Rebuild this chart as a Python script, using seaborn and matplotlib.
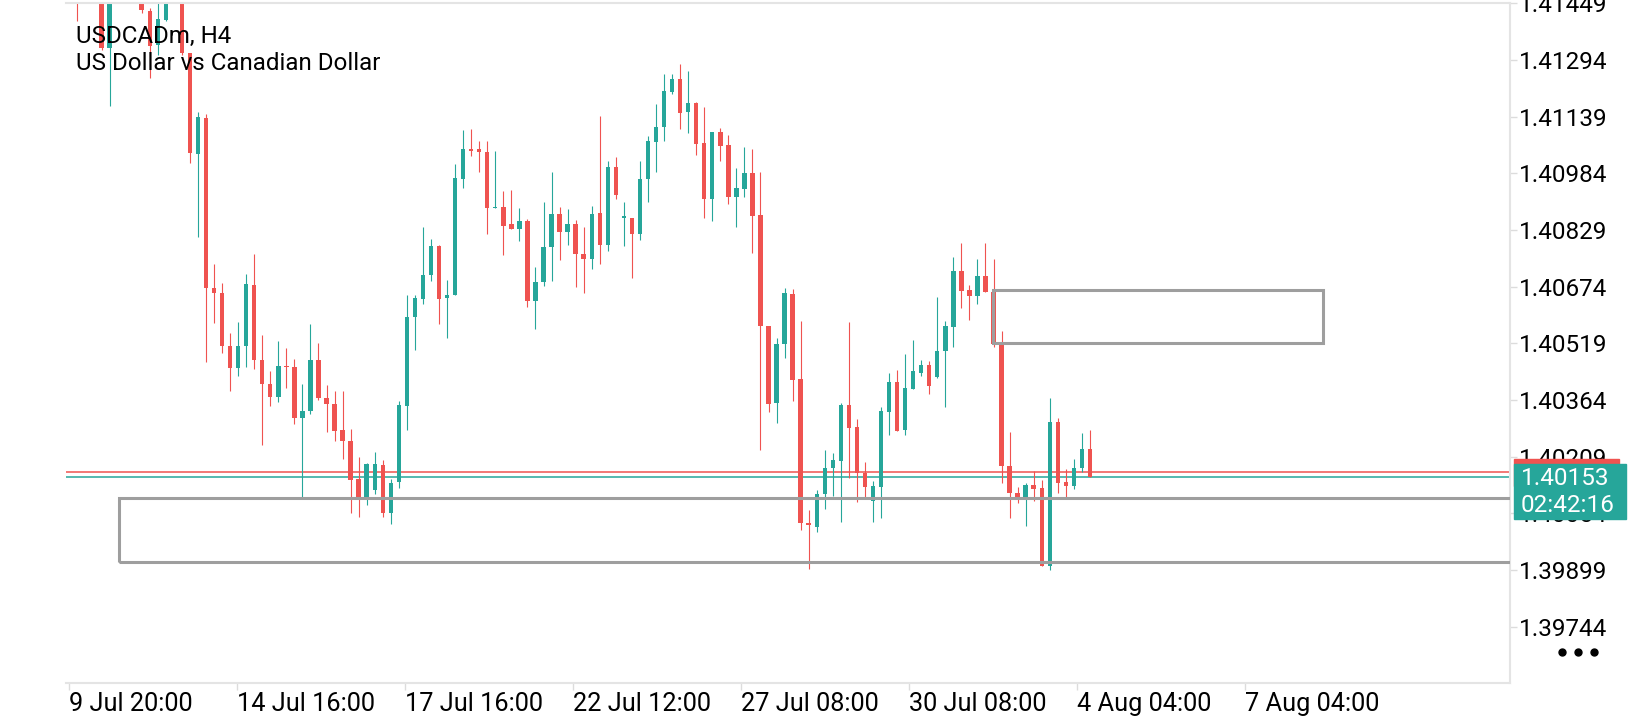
import numpy as np
import pandas as pd
import matplotlib
matplotlib.use("Agg")
import matplotlib.pyplot as plt
from matplotlib.patches import Rectangle
from matplotlib.lines import Line2D
import seaborn as sns

# H4 candles, oldest first
opens = [1.41500, 1.41520, 1.41460, 1.41530, 1.41490, 1.41328, 1.41470, 1.41540, 1.41500, 1.41447,
         1.41429, 1.41335, 1.41403, 1.41470, 1.41490, 1.41312, 1.41037, 1.41135, 1.40670, 1.40658,
         1.40512, 1.40451, 1.40512, 1.40679, 1.40474, 1.40408, 1.40371, 1.40458, 1.40455, 1.40314,
         1.40333, 1.40474, 1.40369, 1.40352, 1.40281, 1.40253, 1.40147, 1.40097, 1.40119, 1.40185,
         1.40056, 1.40140, 1.40347, 1.40592, 1.40640, 1.40707, 1.40785, 1.40642, 1.40650, 1.40969,
         1.41050, 1.41050, 1.41043, 1.40889, 1.40891, 1.40845, 1.40832, 1.40853, 1.40635, 1.40688,
         1.40782, 1.40873, 1.40823, 1.40845, 1.40762, 1.40751, 1.40875, 1.40789, 1.41001, 1.40862,
         1.40861, 1.40819, 1.40968, 1.41071, 1.41110, 1.41207, 1.41242, 1.41152, 1.41176, 1.41067,
         1.40913, 1.41097, 1.41061, 1.40920, 1.40940, 1.40986, 1.40870, 1.40567, 1.40355, 1.40517,
         1.40653, 1.40421, 1.40027, 1.40018, 1.40107, 1.40177, 1.40197, 1.40350, 1.40289, 1.40165,
         1.40088, 1.40127, 1.40332, 1.40413, 1.40282, 1.40395, 1.40438, 1.40461, 1.40428, 1.40498,
         1.40565, 1.40717, 1.40665, 1.40649, 1.40703, 1.40660, 1.40519, 1.40184, 1.40111, 1.40098,
         1.40132, 1.40123, 1.39911, 1.40303, 1.40139, 1.40130, 1.40177, 1.40230]
highs = [1.41560, 1.41560, 1.41560, 1.41580, 1.41520, 1.41500, 1.41560, 1.41600, 1.41540, 1.41480,
         1.41435, 1.41470, 1.41500, 1.41520, 1.41510, 1.41312, 1.41151, 1.41147, 1.40737, 1.40685,
         1.40548, 1.40578, 1.40710, 1.40762, 1.40541, 1.40444, 1.40526, 1.40507, 1.40477, 1.40407,
         1.40572, 1.40520, 1.40404, 1.40390, 1.40390, 1.40284, 1.40209, 1.40192, 1.40221, 1.40199,
         1.40147, 1.40361, 1.40650, 1.40652, 1.40838, 1.40804, 1.40789, 1.40692, 1.41009, 1.41103,
         1.41104, 1.41072, 1.41072, 1.41046, 1.40935, 1.40938, 1.40888, 1.40858, 1.40727, 1.40905,
         1.40988, 1.40893, 1.40887, 1.40856, 1.40836, 1.40894, 1.41140, 1.41018, 1.41028, 1.40906,
         1.40861, 1.41018, 1.41086, 1.41173, 1.41255, 1.41255, 1.41283, 1.41263, 1.41178, 1.41165,
         1.41097, 1.41109, 1.41089, 1.40998, 1.41056, 1.41051, 1.40989, 1.40567, 1.40534, 1.40671,
         1.40668, 1.40579, 1.40064, 1.40119, 1.40227, 1.40218, 1.40355, 1.40576, 1.40312, 1.40195,
         1.40143, 1.40346, 1.40439, 1.40446, 1.40490, 1.40528, 1.40474, 1.40471, 1.40646, 1.40580,
         1.40755, 1.40794, 1.40679, 1.40749, 1.40794, 1.40749, 1.40553, 1.40276, 1.40127, 1.40138,
         1.40170, 1.40145, 1.40369, 1.40314, 1.40175, 1.40203, 1.40275, 1.40282]
lows = [1.41470, 1.41401, 1.41455, 1.41470, 1.41320, 1.41168, 1.41455, 1.41480, 1.41455, 1.41422,
        1.41246, 1.41308, 1.41400, 1.41455, 1.41308, 1.41011, 1.40811, 1.40468, 1.40574, 1.40493,
        1.40390, 1.40430, 1.40455, 1.40449, 1.40242, 1.40347, 1.40359, 1.40397, 1.40298, 1.40095,
        1.40326, 1.40364, 1.40277, 1.40251, 1.40204, 1.40055, 1.40045, 1.40078, 1.40107, 1.40044,
        1.40025, 1.40124, 1.40281, 1.40501, 1.40626, 1.40690, 1.40572, 1.40534, 1.40650, 1.40944,
        1.41032, 1.40987, 1.40819, 1.40889, 1.40760, 1.40832, 1.40800, 1.40619, 1.40559, 1.40675,
        1.40690, 1.40748, 1.40789, 1.40673, 1.40656, 1.40722, 1.40735, 1.40772, 1.40913, 1.40786,
        1.40697, 1.40803, 1.40906, 1.40989, 1.41073, 1.41202, 1.41106, 1.41095, 1.41035, 1.40861,
        1.40854, 1.41018, 1.40900, 1.40838, 1.40920, 1.40767, 1.40227, 1.40331, 1.40301, 1.40479,
        1.40361, 1.40008, 1.39902, 1.40003, 1.40065, 1.40102, 1.40029, 1.40152, 1.40086, 1.40097,
        1.40030, 1.40042, 1.40268, 1.40280, 1.40267, 1.40395, 1.40431, 1.40381, 1.40424, 1.40346,
        1.40510, 1.40617, 1.40583, 1.40627, 1.40660, 1.40510, 1.40138, 1.40042, 1.40082, 1.40020,
        1.40088, 1.39911, 1.39899, 1.40111, 1.40100, 1.40121, 1.40166, 1.40153]
closes = [1.41520, 1.41460, 1.41530, 1.41490, 1.41326, 1.41470, 1.41540, 1.41500, 1.41470, 1.41431,
          1.41333, 1.41406, 1.41470, 1.41490, 1.41312, 1.41039, 1.41137, 1.40670, 1.40656, 1.40512,
          1.40451, 1.40512, 1.40682, 1.40474, 1.40408, 1.40371, 1.40458, 1.40454, 1.40314, 1.40333,
          1.40474, 1.40369, 1.40352, 1.40279, 1.40251, 1.40144, 1.40097, 1.40188, 1.40188, 1.40056,
          1.40138, 1.40350, 1.40592, 1.40642, 1.40707, 1.40785, 1.40640, 1.40652, 1.40970, 1.41050,
          1.41046, 1.41043, 1.40889, 1.40893, 1.40840, 1.40832, 1.40853, 1.40635, 1.40688, 1.40782,
          1.40873, 1.40823, 1.40845, 1.40762, 1.40751, 1.40873, 1.40789, 1.41001, 1.40925, 1.40864,
          1.40819, 1.40968, 1.41072, 1.41110, 1.41209, 1.41242, 1.41150, 1.41176, 1.41065, 1.40913,
          1.41097, 1.41059, 1.40920, 1.40943, 1.40986, 1.40867, 1.40567, 1.40353, 1.40518, 1.40656,
          1.40419, 1.40027, 1.40022, 1.40108, 1.40178, 1.40199, 1.40350, 1.40287, 1.40163, 1.40126,
          1.40129, 1.40334, 1.40413, 1.40280, 1.40397, 1.40443, 1.40461, 1.40402, 1.40498, 1.40567,
          1.40717, 1.40663, 1.40649, 1.40703, 1.40660, 1.40517, 1.40184, 1.40111, 1.40098, 1.40132,
          1.40121, 1.39911, 1.40303, 1.40138, 1.40130, 1.40177, 1.40230, 1.40153]

bid_price = 1.40153
ask_price = 1.40167
price_ticks = [1.41449, 1.41294, 1.41139, 1.40984, 1.40829, 1.40674,
               1.40519, 1.40364, 1.40209, 1.40054, 1.39899, 1.39744]
date_labels = ["9 Jul 20:00", "14 Jul 16:00", "17 Jul 16:00", "22 Jul 12:00",
               "27 Jul 08:00", "30 Jul 08:00", "4 Aug 04:00", "7 Aug 04:00"]
# drawn zones: (first bar, last bar, low price, high price)
demand_zone = [6.2, 200.0, 1.39920, 1.40095]
supply_zone = [114.9, 156.0, 1.40519, 1.40664]

UP = "#26a69a"
DOWN = "#ef5350"
W, H = 1640, 720

df = pd.DataFrame({"open": opens, "high": highs, "low": lows, "close": closes})
df["bar"] = np.arange(len(df))
df["up"] = df["close"] >= df["open"]
df["color"] = np.where(df["up"], UP, DOWN)
df["body_lo"] = df[["open", "close"]].min(axis=1)
df["body_h"] = (df["close"] - df["open"]).abs().clip(lower=0.00004)

sns.set_theme(style="white")
plt.rcParams["font.family"] = ["Roboto", "DejaVu Sans"]

fig = plt.figure(figsize=(W / 100, H / 100), dpi=100)
ax = fig.add_axes([66 / W, 1 - 682.7 / H, 1444 / W, 680 / H])

# bid / ask lines
ax.axhline(ask_price, color=DOWN, lw=1.1, zorder=1)
ax.axhline(bid_price, color=UP, lw=1.1, zorder=1)

# candles
ax.vlines(df["bar"], df["low"], df["high"], colors=df["color"], lw=0.8, zorder=2)
ax.bar(df["bar"], df["body_h"], bottom=df["body_lo"], width=0.55,
       color=df["color"], linewidth=0, zorder=2)

# zones
for z in (demand_zone, supply_zone):
    ax.add_patch(Rectangle((z[0], z[2]), z[1] - z[0], z[3] - z[2], fill=False,
                           edgecolor="#9e9e9e", lw=2.2, zorder=3))

ax.set_xlim(-0.42, 179.27)
ax.set_ylim(1.395908, 1.414507)

sns.despine(ax=ax, left=True, top=False, right=False, bottom=False)
for s in ("top", "right", "bottom"):
    ax.spines[s].set_color("#e4e4e4")
    ax.spines[s].set_linewidth(1.5)

ax.yaxis.tick_right()
ax.set_yticks(price_ticks)
ax.set_yticklabels([f"{p:.5f}" for p in price_ticks])
ax.tick_params(axis="y", right=True, length=5, width=1, color="#dcdcdc",
               pad=1.5, labelsize=17.5, labelcolor="black")

ax.set_xticks(np.arange(len(date_labels)) * 20.9)
ax.set_xticklabels(date_labels, ha="left")
ax.tick_params(axis="x", bottom=True, length=5, width=1, color="#dcdcdc",
               pad=2, labelsize=18.2, labelcolor="black")
ax.grid(False)

fig.text(76 / W, 1 - 42.7 / H, "USDCADm, H4", fontsize=17.4, va="baseline", color="black")
fig.text(76 / W, 1 - 70 / H, "US Dollar vs Canadian Dollar", fontsize=17.4,
         va="baseline", color="black")

# current price tag
fig.add_artist(Rectangle((1514 / W, 1 - 486 / H), 105 / W, 27 / H,
                         transform=fig.transFigure, color=DOWN, zorder=5))
fig.add_artist(Rectangle((1514 / W, 1 - 519 / H), 112 / W, 55 / H,
                         transform=fig.transFigure, color=UP, zorder=5))
fig.text(1521 / W, 1 - 478.3 / H, f"{bid_price:.5f}", fontsize=17.5, color="white",
         va="center", zorder=6)
fig.text(1521 / W, 1 - 505.7 / H, "02:42:16", fontsize=17.5, color="white",
         va="center", zorder=6)

# menu dots
fig.add_artist(Line2D([1562 / W, 1578 / W, 1594 / W], [1 - 652 / H] * 3,
                      transform=fig.transFigure, marker="o", ls="", ms=5,
                      color="black", zorder=6))

fig.savefig("out.png", dpi=100, facecolor="white")
